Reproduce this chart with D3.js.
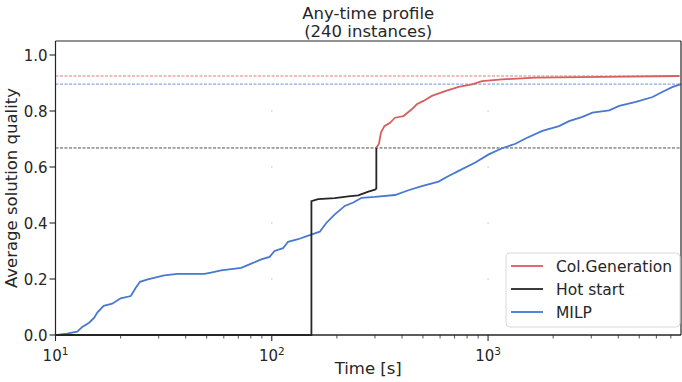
<!DOCTYPE html>
<html>
<head>
<meta charset="utf-8">
<script src="https://cdn.jsdelivr.net/npm/d3@7"></script>
<style>
  body { margin: 0; background: #fff; }
  text { font-family: "DejaVu Sans", sans-serif; fill: #262626; }
</style>
</head>
<body>
<svg id="paper"></svg>
<script>
// series: [time in s, average quality]
let milp = [[10, 0], [10.2, 0], [11.3, 0.005], [12.6, 0.012], [13.3, 0.029], [14.3, 0.044], [15.1, 0.062],
    [15.6, 0.08], [16.7, 0.104], [18.3, 0.112], [20, 0.131], [22.3, 0.139], [23.5, 0.169], [24.6, 0.19],
    [26.7, 0.199], [31.8, 0.213], [36.7, 0.218], [48.8, 0.218], [52.4, 0.223], [58.3, 0.231], [72.2, 0.24],
    [80.4, 0.255], [89.4, 0.27], [97.7, 0.279], [103, 0.3], [112.7, 0.31], [118.9, 0.333], [132.3, 0.342],
    [149.8, 0.357], [166.7, 0.369], [179, 0.401], [195.6, 0.431], [217.7, 0.461], [238.2, 0.473],
    [260.2, 0.49], [299.9, 0.493], [371.4, 0.5], [428.5, 0.517], [494, 0.532], [590.5, 0.548],
    [657.1, 0.568], [731.1, 0.586], [873, 0.616], [1007, 0.645], [1161, 0.667], [1339, 0.683],
    [1490, 0.702], [1781, 0.729], [2129, 0.746], [2369, 0.764], [2731, 0.779], [3039, 0.794],
    [3632, 0.802], [4042, 0.818], [4827, 0.833], [5768, 0.85], [6418, 0.869], [7142, 0.886], [7800, 0.896]];
let hotStart = [[10, 0], [152.5, 0], [152.5, 0.478], [163.8, 0.485], [195.6, 0.489], [225.7, 0.495],
    [251, 0.499], [279.6, 0.512], [299.9, 0.519], [304.4, 0.523], [304.4, 0.669]];
let colGen = [[304.4, 0.669], [313.1, 0.683], [319.8, 0.723], [331.6, 0.746], [352.1, 0.758], [371.4, 0.776],
    [406.3, 0.782], [444, 0.806], [468.3, 0.824], [503, 0.836], [549.7, 0.854], [633.8, 0.871],
    [731.1, 0.886], [843, 0.895], [938, 0.907], [1161, 0.913], [1658, 0.919], [3381, 0.922], [7674, 0.925]];

let names = ["Col.Generation", "Hot start", "MILP"];
let colors = ["#d65f5f", "#262626", "#4878d0"];
let bestValues = [0.925, 0.668, 0.896];
let xTicks = [10, 100, 1000];
let yTicks = [0, 0.2, 0.4, 0.6, 0.8, 1.0];

let margin = {top: 41, right: 1, bottom: 47, left: 55.5},
    width = 682 - margin.left - margin.right,
    height = 382 - margin.top - margin.bottom;

let svg = d3.select("#paper")
        .attr("width", 682)
        .attr("height", 382),
    g = svg.append("g")
        .attr("transform", "translate(" + margin.left + "," + margin.top + ")");

let x = d3.scaleLog().domain([10, 7800]).range([0, width]);
let y = d3.scaleLinear().domain([0, 1.05]).range([height, 0]);

// sparse grid dots
let gridPts = [];
[100, 1000].forEach(t => [0.2, 0.4, 0.6, 0.8].forEach(v => gridPts.push([t, v])));
g.selectAll(".gdot")
    .data(gridPts)
    .enter()
    .append("rect")
    .attr("x", d => x(d[0]) - 0.5)
    .attr("y", d => y(d[1]) - 0.5)
    .attr("width", 1)
    .attr("height", 1)
    .attr("fill", "#999");

// dashed best-value lines
g.selectAll(".best")
    .data(bestValues)
    .enter()
    .append("line")
    .attr("x1", 0)
    .attr("x2", width)
    .attr("y1", d => y(d))
    .attr("y2", d => y(d))
    .attr("stroke", (d, i) => colors[i])
    .attr("stroke-width", 1)
    .attr("stroke-dasharray", "3,1.5")
    .attr("opacity", 0.8);

let line = d3.line()
    .x(d => x(d[0]))
    .y(d => y(d[1]));

let series = [milp, hotStart, colGen];
let seriesColors = [colors[2], colors[1], colors[0]];
g.selectAll(".series")
    .data(series)
    .enter()
    .append("path")
    .attr("d", d => line(d))
    .attr("fill", "none")
    .attr("stroke", (d, i) => seriesColors[i])
    .attr("stroke-width", 1.8);

// axes
let xAxis = g.append("g").attr("transform", "translate(0," + height + ")");
let minor = [];
[10, 100, 1000].forEach(dec => d3.range(2, 10).forEach(k => { if (dec * k <= 7800) minor.push(dec * k); }));
xAxis.selectAll(".minor")
    .data(minor)
    .enter()
    .append("line")
    .attr("x1", d => x(d)).attr("x2", d => x(d))
    .attr("y1", 0).attr("y2", 3.5)
    .attr("stroke", "#262626").attr("stroke-width", 0.8);
xAxis.selectAll(".major")
    .data(xTicks)
    .enter()
    .append("line")
    .attr("x1", d => x(d)).attr("x2", d => x(d))
    .attr("y1", 0).attr("y2", 6)
    .attr("stroke", "#262626").attr("stroke-width", 1.1);
let xl = xAxis.selectAll(".xlab")
    .data(xTicks)
    .enter()
    .append("text")
    .attr("x", d => x(d))
    .attr("y", 26)
    .style("text-anchor", "middle")
    .style("font-size", "15px");
xl.append("tspan").text("10");
xl.append("tspan").attr("dy", -6).style("font-size", "10.5px").text(d => Math.round(Math.log10(d)));

let yAxis = g.append("g");
yAxis.selectAll(".ytick")
    .data(yTicks)
    .enter()
    .append("line")
    .attr("x1", -6).attr("x2", 0)
    .attr("y1", d => y(d)).attr("y2", d => y(d))
    .attr("stroke", "#262626").attr("stroke-width", 1.1);
yAxis.selectAll(".ylab")
    .data(yTicks)
    .enter()
    .append("text")
    .attr("x", -8)
    .attr("y", d => y(d) + 5.5)
    .style("text-anchor", "end")
    .style("font-size", "15px")
    .text(d => d.toFixed(1));

// spines
g.append("line").attr("x1", 0).attr("x2", 0).attr("y1", 0).attr("y2", height)
    .attr("stroke", "#262626").attr("stroke-width", 1.2);
g.append("line").attr("x1", 0).attr("x2", width).attr("y1", height).attr("y2", height)
    .attr("stroke", "#262626").attr("stroke-width", 1.5);
g.append("line").attr("x1", 0).attr("x2", width).attr("y1", 0).attr("y2", 0)
    .attr("stroke", "#262626").attr("stroke-width", 1.2);
g.append("line").attr("x1", width).attr("x2", width).attr("y1", 0).attr("y2", height)
    .attr("stroke", "#262626").attr("stroke-width", 1.2);

// labels
svg.append("text")
    .attr("x", margin.left + width / 2).attr("y", 19)
    .style("text-anchor", "middle").style("font-size", "16.5px")
    .text("Any-time profile");
svg.append("text")
    .attr("x", margin.left + width / 2).attr("y", 37)
    .style("text-anchor", "middle").style("font-size", "16.5px")
    .text("(240 instances)");
svg.append("text")
    .attr("x", margin.left + width / 2).attr("y", 374)
    .style("text-anchor", "middle").style("font-size", "16.5px")
    .text("Time [s]");
svg.append("text")
    .attr("transform", "translate(17," + (margin.top + height / 2) + ") rotate(-90)")
    .style("text-anchor", "middle").style("font-size", "16.5px")
    .text("Average solution quality");

// legend
let legend = svg.append("g").attr("transform", "translate(506,253)");
legend.append("rect")
    .attr("width", 174).attr("height", 74).attr("rx", 4)
    .attr("fill", "#fff").attr("fill-opacity", 0.85)
    .attr("stroke", "#d9d9d9");
let items = legend.selectAll(".item")
    .data(names)
    .enter()
    .append("g")
    .attr("transform", (d, i) => "translate(0," + (13 + i * 23) + ")");
items.append("line")
    .attr("x1", 5).attr("x2", 37)
    .attr("stroke", (d, i) => colors[i]).attr("stroke-width", 1.8);
items.append("text")
    .attr("x", 50).attr("y", 5.5)
    .style("font-size", "15.5px")
    .text(d => d);
</script>
</body>
</html>
